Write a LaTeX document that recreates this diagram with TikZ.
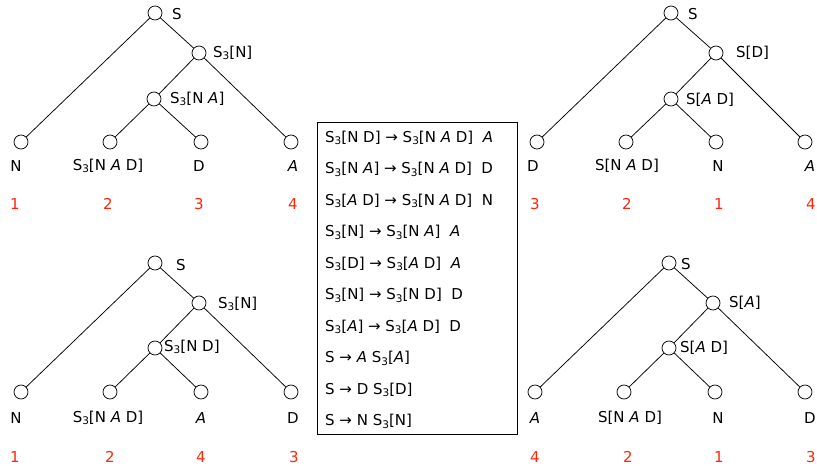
\documentclass[tikz,border=0pt]{standalone}
\usepackage{fontspec}
\setmainfont{DejaVu Sans}
\definecolor{numred}{RGB}{250,40,10}
\newcommand\tsub[1]{\raisebox{-0.3ex}{\fontsize{10.5}{10.5}\selectfont#1}}
\begin{document}
\begin{tikzpicture}[x=1pt,y=-1pt,
  vtx/.style={circle,draw,line width=0.75pt,minimum size=14pt,inner sep=0pt},
  edge/.style={line width=0.75pt},
  lab/.style={font=\fontsize{15}{15}\selectfont,inner sep=0pt,anchor=west},
  leaf/.style={font=\fontsize{15}{15}\selectfont,inner sep=0pt},
  num/.style={font=\fontsize{15}{15}\selectfont,inner sep=0pt,text=numred},
  rule/.style={font=\fontsize{15}{15}\selectfont,inner sep=0pt,anchor=west}]
\useasboundingbox (0,0) rectangle (817,466);

% ---------- top-left tree ----------
\node[vtx] (a0) at (155,13) {};
\node[vtx] (a1) at (199,53) {};
\node[vtx] (a2) at (154,99) {};
\node[vtx] (a3) at (21,142) {};
\node[vtx] (a4) at (110,142) {};
\node[vtx] (a5) at (201,142) {};
\node[vtx] (a6) at (291,142) {};
\draw[edge] (a0)--(a3) (a0)--(a1) (a1)--(a2) (a1)--(a6) (a2)--(a4) (a2)--(a5);
\node[lab] (la0) at (172,14) {S};
\node[lab] (la1) at (213,53) {S\tsub{3}[N]};
\node[lab] (la2) at (170,99) {S\tsub{3}[N \textit{A}]};
\node[leaf] (la3) at (16,166) {N};
\node[leaf] (la4) at (108,166) {S\tsub{3}[N \textit{A} D]};
\node[leaf] (la5) at (199,166) {D};
\node[leaf] (la6) at (293,166) {\textit{A}};
\node[num] (na3) at (15,204) {1};
\node[num] (na4) at (108,204) {2};
\node[num] (na5) at (199,204) {3};
\node[num] (na6) at (293,204) {4};

% ---------- top-right tree ----------
\node[vtx] (b0) at (671,13) {};
\node[vtx] (b1) at (716,53) {};
\node[vtx] (b2) at (671,99) {};
\node[vtx] (b3) at (537,142) {};
\node[vtx] (b4) at (626,142) {};
\node[vtx] (b5) at (716,142) {};
\node[vtx] (b6) at (805,142) {};
\draw[edge] (b0)--(b3) (b0)--(b1) (b1)--(b2) (b1)--(b6) (b2)--(b4) (b2)--(b5);
\node[lab] (lb0) at (688,14) {S};
\node[lab] (lb1) at (736,53) {S[D]};
\node[lab] (lb2) at (686,100) {S[\textit{A} D]};
\node[leaf] (lb3) at (533,166) {D};
\node[leaf] (lb4) at (627,166) {S[N \textit{A} D]};
\node[leaf] (lb5) at (718,166) {N};
\node[leaf] (lb6) at (810,166) {\textit{A}};
\node[num] (nb3) at (535,204) {3};
\node[num] (nb4) at (627,204) {2};
\node[num] (nb5) at (719,204) {1};
\node[num] (nb6) at (811,204) {4};

% ---------- bottom-left tree ----------
\node[vtx] (c0) at (155,263) {};
\node[vtx] (c1) at (199,303) {};
\node[vtx] (c2) at (155,348) {};
\node[vtx] (c3) at (21,392) {};
\node[vtx] (c4) at (110,392) {};
\node[vtx] (c5) at (201,392) {};
\node[vtx] (c6) at (291,392) {};
\draw[edge] (c0)--(c3) (c0)--(c1) (c1)--(c2) (c1)--(c6) (c2)--(c4) (c2)--(c5);
\node[lab] (lc0) at (176,265) {S};
\node[lab] (lc1) at (218,304) {S\tsub{3}[N]};
\node[lab] (lc2) at (164,347) {S\tsub{3}[N D]};
\node[leaf] (lc3) at (16,418) {N};
\node[leaf] (lc4) at (108,418) {S\tsub{3}[N \textit{A} D]};
\node[leaf] (lc5) at (201,418) {\textit{A}};
\node[leaf] (lc6) at (293,418) {D};
\node[num] (nc3) at (15,457) {1};
\node[num] (nc4) at (110,457) {2};
\node[num] (nc5) at (201,457) {4};
\node[num] (nc6) at (294,457) {3};

% ---------- bottom-right tree ----------
\node[vtx] (d0) at (669,263) {};
\node[vtx] (d1) at (713,303) {};
\node[vtx] (d2) at (669,348) {};
\node[vtx] (d3) at (535,392) {};
\node[vtx] (d4) at (624,392) {};
\node[vtx] (d5) at (715,392) {};
\node[vtx] (d6) at (805,392) {};
\draw[edge] (d0)--(d3) (d0)--(d1) (d1)--(d2) (d1)--(d6) (d2)--(d4) (d2)--(d5);
\node[lab] (ld0) at (681,264) {S};
\node[lab] (ld1) at (729,303) {S[\textit{A}]};
\node[lab] (ld2) at (680,348) {S[\textit{A} D]};
\node[leaf] (ld3) at (535,418) {\textit{A}};
\node[leaf] (ld4) at (630,418) {S[N \textit{A} D]};
\node[leaf] (ld5) at (718,418) {N};
\node[leaf] (ld6) at (810,418) {D};
\node[num] (nd3) at (535,457) {4};
\node[num] (nd4) at (628,457) {2};
\node[num] (nd5) at (719,457) {1};
\node[num] (nd6) at (811,457) {3};

% ---------- rule box ----------
\draw[line width=0.75pt] (317,122) rectangle (517,434);
\node[rule] (r0) at (325,138)   {S\tsub{3}[N D] → S\tsub{3}[N \textit{A} D]\ \ \textit{A}};
\node[rule] (r1) at (325,169.5) {S\tsub{3}[N \textit{A}] → S\tsub{3}[N \textit{A} D]\ \ D};
\node[rule] (r2) at (325,201)   {S\tsub{3}[\textit{A} D] → S\tsub{3}[N \textit{A} D]\ \ N};
\node[rule] (r3) at (325,232.5) {S\tsub{3}[N] → S\tsub{3}[N \textit{A}]\ \ \textit{A}};
\node[rule] (r4) at (325,264)   {S\tsub{3}[D] → S\tsub{3}[\textit{A} D]\ \ \textit{A}};
\node[rule] (r5) at (325,295.5) {S\tsub{3}[N] → S\tsub{3}[N D]\ \ D};
\node[rule] (r6) at (325,327)   {S\tsub{3}[\textit{A}] → S\tsub{3}[\textit{A} D]\ \ D};
\node[rule] (r7) at (325,358.5) {S → \textit{A} S\tsub{3}[\textit{A}]};
\node[rule] (r8) at (325,390)   {S → D S\tsub{3}[D]};
\node[rule] (r9) at (325,421.5) {S → N S\tsub{3}[N]};
\end{tikzpicture}
\end{document}
